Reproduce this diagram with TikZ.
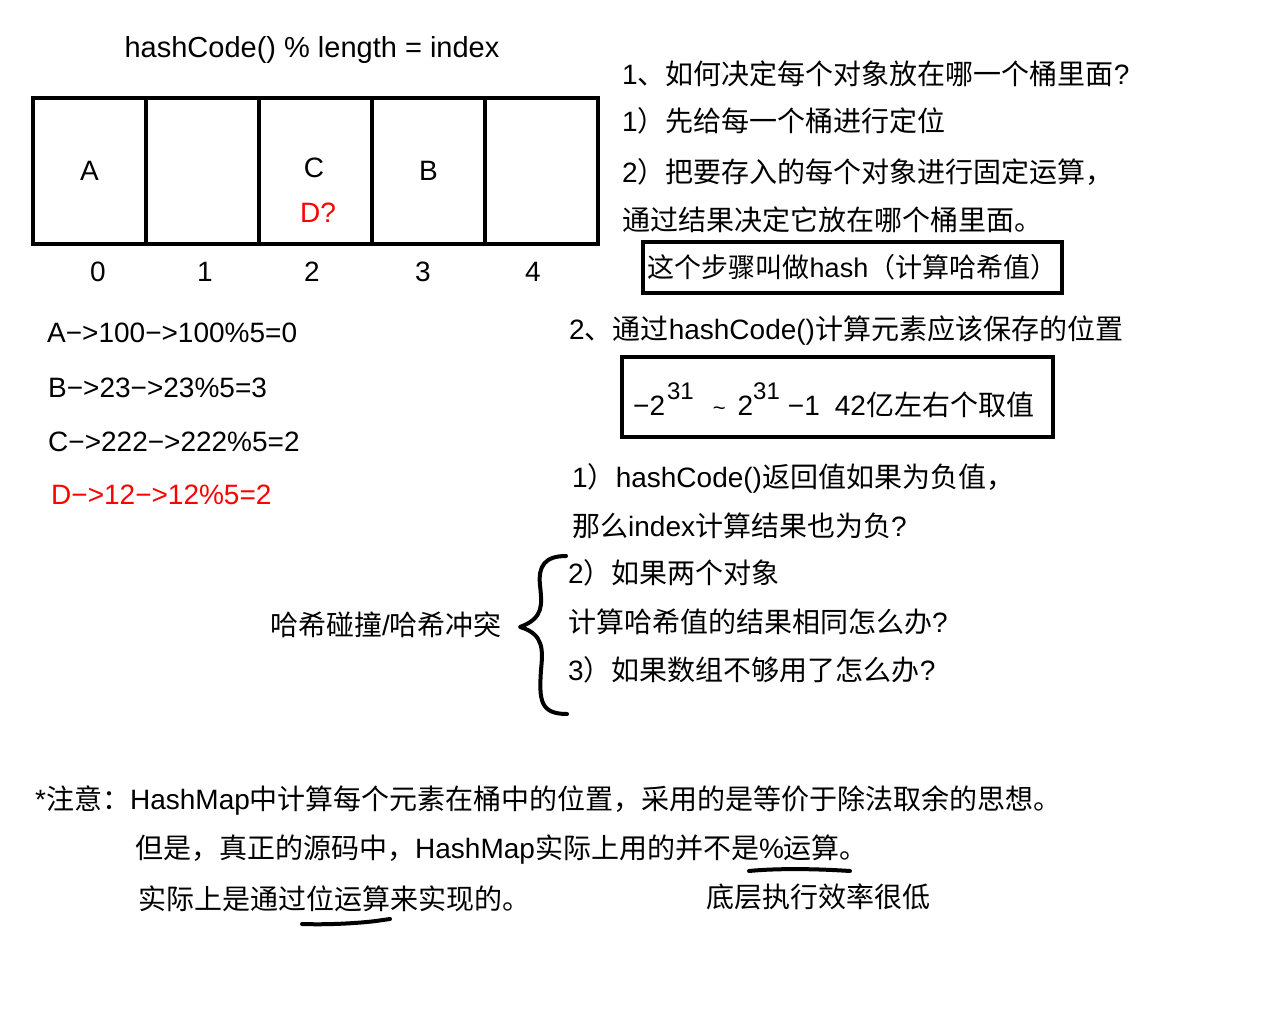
\documentclass[tikz,border=0pt]{standalone}
\usepackage{fontspec}
\setmainfont{Liberation Sans}
\newfontfamily\cjk{Noto Sans CJK SC}
\usetikzlibrary{positioning}

% Chinese characters go to the CJK face, everything else stays in Liberation Sans
\XeTeXinterchartokenstate=1
\chardef\hanclass=9
\newcount\hanc
\def\sethan#1#2{\hanc=#1\relax
  \loop\XeTeXcharclass\hanc=\hanclass
  \ifnum\hanc<#2\relax\advance\hanc by 1\relax\repeat}
\sethan{"3000}{"303F}
\sethan{"4E00}{"9FFF}
\sethan{"FF00}{"FFEF}
\XeTeXinterchartoks 0 \hanclass = {\cjk}
\XeTeXinterchartoks 4095 \hanclass = {\cjk}
\XeTeXinterchartoks \hanclass 0 = {\rmfamily}
\XeTeXinterchartoks \hanclass 4095 = {\rmfamily}

\begin{document}
\begin{tikzpicture}[x=1pt,y=-1pt,
    every node/.style={font=\fontsize{28}{34}\selectfont,inner sep=0pt}]
  \tikzstyle{cell}=[draw=black,line width=4pt,outer sep=0pt,minimum width=113pt,minimum height=146pt]
  \tikzstyle{txt}=[anchor=base west]
  \tikzstyle{boxed}=[draw=black,line width=4pt]
  \tikzstyle{hand}=[line width=4pt,line cap=round,line join=round]

  \fill[white] (0,0) rectangle (1280,1024);
  \useasboundingbox (0,0) rectangle (1280,1024);

  \node[anchor=base,font=\fontsize{29}{34}\selectfont] (title) at (312,58) {hashCode() \% length = index};

  % the five buckets
  \node[cell] (c0) at (89.5,171) {A};
  \node[cell] (c1) [right=0pt of c0] {};
  \node[cell] (c2) [right=0pt of c1] {};
  \node[cell] (c3) [right=0pt of c2] {B};
  \node[cell] (c4) [right=0pt of c3] {};
  \node (C) at (314,168) {C};
  \node[red] (D) at (318,213) {D?};
  \foreach \i/\x in {0/98,1/205,2/312,3/423,4/533}
    \node (n\i) at (\x,272) {\i};

  \node[txt] (hA) at (47,342) {A−>100−>100\%5=0};
  \node[txt] (hB) at (48,397) {B−>23−>23\%5=3};
  \node[txt] (hC) at (48,451) {C−>222−>222\%5=2};
  \node[txt,red] (hD) at (51,504) {D−>12−>12\%5=2};

  \node[txt] (q1) at (622,84.5) {1、如何决定每个对象放在哪一个桶里面?};
  \node[txt] (q1a) at (622,131.5) {1）先给每一个桶进行定位};
  \node[txt] (q1b) at (622,182.5) {2）把要存入的每个对象进行固定运算，};
  \node[txt] (q1c) at (622,230.5) {通过结果决定它放在哪个桶里面。};
  \node[boxed,minimum width=419pt,minimum height=51pt,font=\fontsize{27}{32}\selectfont] (step) at (852.5,267.5) {这个步骤叫做hash（计算哈希值）};

  \node[txt] (q2) at (569,339.5) {2、通过hashCode()计算元素应该保存的位置};
  \node[boxed,minimum width=431pt,minimum height=80pt] (range) at (837.5,397) {};
  \node[txt] (rangetxt) at (633,415) {−2\hspace{2pt}\raisebox{16pt}{\fontsize{24}{24}\selectfont 31}\hspace{19pt}{\fontsize{22}{22}\selectfont\textasciitilde}\hspace{12pt}2\raisebox{16pt}{\fontsize{24}{24}\selectfont 31}\hspace{8pt}−1\hspace{15pt}42亿左右个取值};

  \node[txt] (p1) at (572,487.5) {1）hashCode()返回值如果为负值，};
  \node[txt] (p1b) at (572,536.5) {那么index计算结果也为负?};
  \node[txt] (p2) at (568,583.5) {2）如果两个对象};
  \node[txt] (p2b) at (568,632.5) {计算哈希值的结果相同怎么办?};
  \node[txt] (p3) at (568,680.5) {3）如果数组不够用了怎么办?};
  \node[anchor=base east] (clash) at (502,635) {哈希碰撞/哈希冲突};

  % hand drawn brace
  \draw[hand] (566,556) .. controls (545,556) and (538,566) .. (540,585)
    .. controls (542,605) and (544,618) .. (520,627)
    .. controls (544,634) and (543,650) .. (541,670)
    .. controls (539,700) and (540,714) .. (567,714);

  \node[txt] (note) at (35,809.5) {*注意：HashMap中计算每个元素在桶中的位置，采用的是等价于除法取余的思想。};
  \node[txt] (note2) at (135,858.5) {但是，真正的源码中，HashMap实际上用的并不是\%运算。};
  \node[txt] (note3) at (138,909.5) {实际上是通过位运算来实现的。};
  \node[txt] (slow) at (706,907.5) {底层执行效率很低};
  \draw[hand] (749,871) .. controls (780,868) and (820,869) .. (850,871);
  \draw[hand] (302,924) .. controls (330,925) and (360,923) .. (376,921) -- (390,919);
\end{tikzpicture}
\end{document}
